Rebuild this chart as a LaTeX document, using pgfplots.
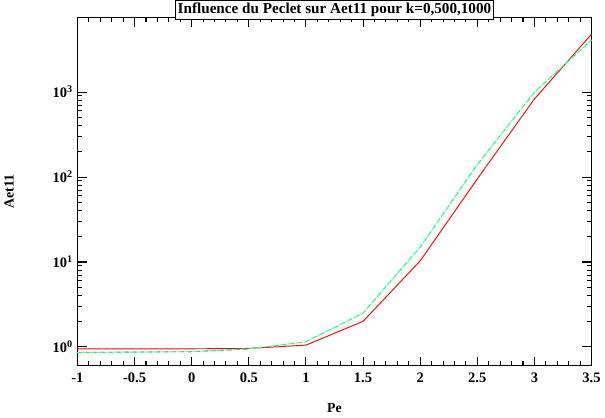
\documentclass[border=0pt]{standalone}
\usepackage{pgfplots}
\pgfplotsset{compat=1.18}
\usepackage{fontspec}
\setmainfont{Liberation Serif}
\definecolor{aqua}{RGB}{60,255,200}
\begin{document}
\begin{tikzpicture}
\begin{axis}[
scale only axis,
width=390pt,
height=264pt,
xmin=-1, xmax=3.5,
ymode=log,
ymin=0.6, ymax=7500,
xtick={-1,-0.5,0,0.5,1,1.5,2,2.5,3,3.5},
xticklabels={-1,-0.5,0,0.5,1,1.5,2,2.5,3,3.5},
minor x tick num=4,
ytick={1,10,100,1000},
yticklabels={$\mathbf{10^0}$,$\mathbf{10^1}$,$\mathbf{10^2}$,$\mathbf{10^3}$},
tick align=inside,
tick style={black, line width=0.8pt},
major tick length=7pt,
minor tick length=3.5pt,
axis line style={line width=0.8pt},
ticklabel style={font=\bfseries\fontsize{11}{12}\selectfont},
xticklabel style={yshift=-2pt},
xlabel={\textbf{Pe}},
ylabel={\textbf{Aet11}},
label style={font=\bfseries\fontsize{10.5}{12}\selectfont},
xlabel style={at={(axis description cs:0.5,-0.095)},anchor=north},
ylabel style={at={(axis description cs:-0.115,0.5)},anchor=south},
title={Influence du Peclet sur Aet11 pour k=0,500,1000},
title style={font=\bfseries\fontsize{11.5}{12}\selectfont, draw=black, fill=white, line width=0.8pt,
  inner sep=1.8pt, at={(axis description cs:0.5,1)}, anchor=center},
clip=false,
]
\addplot[gray, dashed, line width=0.6pt] coordinates {(-1,0.86) (0,0.88) (0.5,0.94)};
\addplot[red, line width=0.7pt] coordinates {(-1,0.95) (-0.5,0.95) (0,0.95) (0.5,0.96) (1,1.05) (1.5,2.0) (2,10.3) (2.5,95) (3,830) (3.5,4800)};
\addplot[green!70!cyan, dashed, line width=0.7pt] coordinates {(-1,0.86) (-0.5,0.87) (0,0.88) (0.5,0.95) (1,1.15) (1.5,2.5) (2,15) (2.5,140) (3,1000) (3.5,4100)};
\addplot[aqua, dashed, dash phase=2pt, line width=0.7pt] coordinates {(-1,0.86) (-0.5,0.87) (0,0.88) (0.5,0.95) (1,1.15) (1.5,2.5) (2,15) (2.5,140) (3,1000) (3.5,4100)};
\end{axis}
\end{tikzpicture}
\end{document}
